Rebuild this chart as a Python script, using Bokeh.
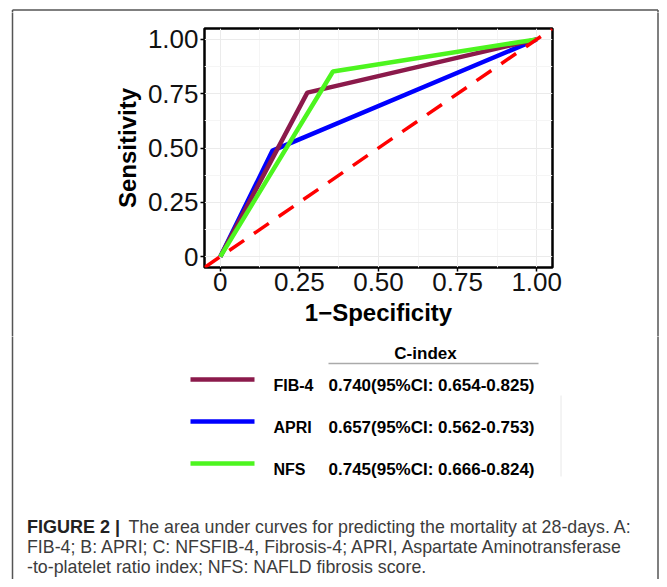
from bokeh.plotting import figure
from bokeh.models import FixedTicker, Range1d
from bokeh.layouts import column, row
from bokeh.core.properties import value
from bokeh.embed import file_html
from bokeh.resources import INLINE

# ---------------- data ----------------
fpr_fib4 = [0.0, 0.275, 1.0]
tpr_fib4 = [0.0, 0.755, 1.0]
fpr_apri = [0.0, 0.165, 1.0]
tpr_apri = [0.0, 0.488, 1.0]
fpr_nfs = [0.0, 0.356, 1.0]
tpr_nfs = [0.0, 0.852, 1.0]
ref_x = [-0.05, 1.05]
ref_y = [-0.05, 1.05]

tick_values = [0, 0.25, 0.5, 0.75, 1.0]
tick_labels = ["0", "0.25", "0.50", "0.75", "1.00"]
minor_values = [0.125, 0.375, 0.625, 0.875]

legend_names = ["FIB-4", "APRI", "NFS"]
cindex_texts = ["0.740(95%CI: 0.654-0.825)",
                "0.657(95%CI: 0.562-0.753)",
                "0.745(95%CI: 0.666-0.824)"]
series_colors = ["#8B1A4B", "#0000FF", "#4DF51F"]
ref_color = "#FF0000"

caption_bold = "FIGURE 2 |"
caption_lines = ["The area under curves for predicting the mortality at 28-days. A:",
                 "FIB-4; B: APRI; C: NFSFIB-4, Fibrosis-4; APRI, Aspartate Aminotransferase",
                 "-to-platelet ratio index; NFS: NAFLD fibrosis score."]

# ---------------- layout (page px) ----------------
W, H = 659, 579
TOP = 12          # height of the strip holding the box's top edge
SPLIT = 336       # y where the ROC row ends and the legend/caption panel starts
LW, RW = 14, 10   # side strips beside the ROC figure
FL, FT, FR, FB = 204, 28, 552, 267   # ROC frame edges
BOX = "#555555"
XL, XR, YT = 12, W - 1.5, 9.5       # outer box lines


def blank(w, h, xr, yr):
    f = figure(width=w, height=h, output_backend="svg", toolbar_location=None,
               x_range=Range1d(*xr), y_range=Range1d(*yr),
               x_axis_type=None, y_axis_type=None, min_border=0, frame_align=False)
    f.grid.visible = False
    f.outline_line_color = None
    f.background_fill_color = "white"
    f.border_fill_color = "white"
    return f


# top strip
top = blank(W, TOP, (0, W), (TOP, 0))
top.segment(x0=[XL, XL, XR], y0=[YT, YT, YT], x1=[XR, XL, XR], y1=[YT, TOP + 2, TOP + 2],
            line_color=BOX, line_width=1.5)

# side strips
left = blank(LW, SPLIT - TOP, (0, LW), (SPLIT, TOP))
left.segment(x0=[XL], y0=[TOP - 2], x1=[XL], y1=[SPLIT + 2], line_color=BOX, line_width=1.5)
right = blank(RW, SPLIT - TOP, (W - RW, W), (SPLIT, TOP))
right.segment(x0=[XR], y0=[TOP - 2], x1=[XR], y1=[SPLIT + 2], line_color=BOX, line_width=1.5)

# ROC plot
p = figure(width=W - LW - RW, height=SPLIT - TOP, output_backend="svg", toolbar_location=None,
           x_range=Range1d(-0.05, 1.05), y_range=Range1d(-0.05, 1.05), frame_align=False,
           min_border_left=FL - LW, min_border_right=(W - RW) - FR,
           min_border_top=FT - TOP, min_border_bottom=SPLIT - FB)
p.background_fill_color = "white"
p.border_fill_color = "white"
p.outline_line_color = "black"
p.outline_line_width = 2.5

ticker = FixedTicker(ticks=tick_values, minor_ticks=minor_values)
overrides = {v: s for v, s in zip(tick_values, tick_labels)}
for ax in (p.xaxis[0], p.yaxis[0]):
    ax.ticker = ticker
    ax.major_label_overrides = overrides
    ax.axis_line_color = None
    ax.major_tick_line_color = "black"
    ax.major_tick_line_width = 1.5
    ax.major_tick_out = 4
    ax.major_tick_in = 0
    ax.minor_tick_line_color = None
    ax.major_label_text_font = "Liberation Sans"
    ax.major_label_text_font_size = "26px"
    ax.major_label_text_color = "#111111"
    ax.axis_label_text_font = "Liberation Sans"
    ax.axis_label_text_font_size = "24px"
    ax.axis_label_text_font_style = "bold"
    ax.axis_label_text_color = "black"
p.xaxis.axis_label = "1\u2212Specificity"
p.yaxis.axis_label = "Sensitivity"
p.xaxis.major_label_standoff = 1
p.yaxis.major_label_standoff = 2
p.xaxis.axis_label_standoff = 5
p.yaxis.axis_label_standoff = 4

for g in (p.xgrid[0], p.ygrid[0]):
    g.ticker = ticker
    g.grid_line_color = "#EBEBEB"
    g.grid_line_width = 1
    g.minor_grid_line_color = "#F5F5F5"
    g.minor_grid_line_width = 1

p.line(fpr_apri, tpr_apri, line_color=series_colors[1], line_width=4.5)
p.line(fpr_fib4, tpr_fib4, line_color=series_colors[0], line_width=4.5)
p.line(fpr_nfs, tpr_nfs, line_color=series_colors[2], line_width=4.5)
p.line(ref_x, ref_y, line_color=ref_color, line_width=3.5, line_dash="18 12")

# legend table + caption panel
bg = blank(W, H - SPLIT, (0, W), (H, SPLIT))
bg.segment(x0=[XL, XR], y0=[SPLIT - 2, SPLIT - 2], x1=[XL, XR], y1=[H + 5, H + 5],
           line_color=BOX, line_width=1.5)

row_y = [379, 421, 463]
bg.text(x=[425], y=[353], text=["C-index"], text_font=value("Liberation Sans"),
        text_font_size="17px", text_font_style="bold", text_color="black",
        text_align="center", text_baseline="alphabetic")
bg.segment(x0=[328], y0=[363], x1=[538], y1=[363], line_color="#AAAAAA", line_width=1.5)
bg.segment(x0=[190] * 3, y0=row_y, x1=[254] * 3, y1=row_y, line_color=series_colors,
           line_width=4.5)
bg.text(x=[273] * 3, y=[r + 6 for r in row_y], text=legend_names,
        text_font=value("Liberation Sans"), text_font_size="16px",
        text_font_style="bold", text_color="black", text_baseline="alphabetic")
bg.text(x=[328] * 3, y=[r + 6.2 for r in row_y], text=cindex_texts,
        text_font=value("Liberation Sans"), text_font_size="17px",
        text_font_style="bold", text_color="black", text_baseline="alphabetic")
bg.segment(x0=[560.5], y0=[395], x1=[560.5], y1=[476], line_color="#E8E8E8", line_width=1)

bg.text(x=[26.5], y=[526.5], text=[caption_bold], text_font=value("Liberation Sans"),
        text_font_size="18px", text_font_style="bold", text_color="#222222",
        text_baseline="alphabetic")
bg.text(x=[128, 26.5, 26.5], y=[526.5, 546.5, 566.5], text=caption_lines,
        text_font=value("Liberation Sans"), text_font_size="17.8px",
        text_color="#3C3C3C", text_baseline="alphabetic")

layout = column(top, row(left, p, right), bg)

open("out.html", "w").write(file_html(layout, INLINE))
